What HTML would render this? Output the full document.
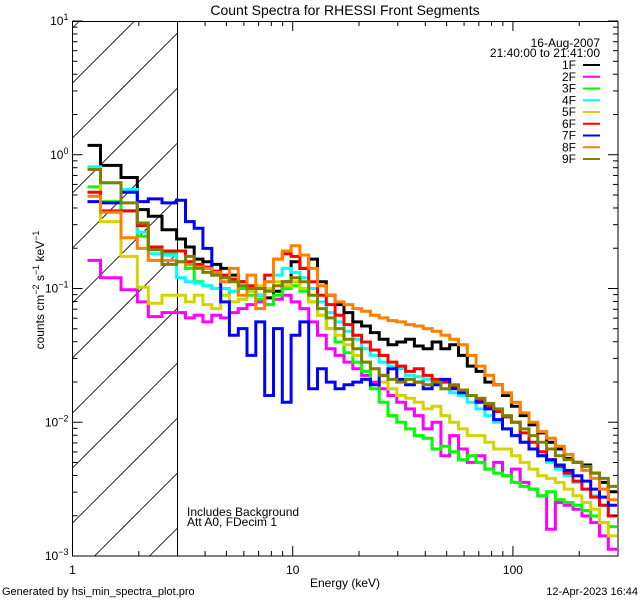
<!DOCTYPE html>
<html><head><meta charset="utf-8"><style>
html,body{margin:0;padding:0;background:#fff;width:640px;height:600px;overflow:hidden;}
svg{display:block;font-family:"Liberation Sans",sans-serif;overflow:hidden;}
</style></head><body>
<svg id="chart" width="640" height="600" viewBox="0 0 640 600">
<rect x="0" y="0" width="640" height="600" fill="#fff"/>
<defs><clipPath id="plotclip"><rect x="72.5" y="21" width="545.5" height="535"/></clipPath>
<clipPath id="hatchclip"><rect x="72.5" y="21" width="105" height="535"/></clipPath></defs>
<text x="345" y="15" font-size="14" text-anchor="middle">Count Spectra for RHESSI Front Segments</text>
<g id="hatch" clip-path="url(#hatchclip)"></g>
<line x1="177.5" y1="21" x2="177.5" y2="556" stroke="#000" stroke-width="1"/>
<g id="series" clip-path="url(#plotclip)"></g>
<rect x="72.5" y="21.5" width="545.5" height="534.5" fill="none" stroke="#000" stroke-width="1"/>
<g id="axes"></g>
<text x="600" y="47" font-size="12" text-anchor="end">16-Aug-2007</text>
<text x="600" y="57" font-size="12" text-anchor="end">21:40:00 to 21:41:00</text>
<g id="legend"></g>
<text x="187" y="516" font-size="12">Includes Background</text>
<text x="187" y="526" font-size="12">Att A0, FDecim 1</text>
<text x="345" y="587" font-size="12" text-anchor="middle">Energy (keV)</text>
<text transform="translate(44,290) rotate(-90)" font-size="12" text-anchor="middle">counts cm<tspan dy="-5" font-size="9">−2</tspan><tspan dy="5"> s</tspan><tspan dy="-5" font-size="9">−1</tspan><tspan dy="5"> keV</tspan><tspan dy="-5" font-size="9">−1</tspan></text>
<text x="2" y="595" font-size="11">Generated by hsi_min_spectra_plot.pro</text>
<text x="638" y="595" font-size="11" text-anchor="end">12-Apr-2023 16:44</text>
</svg>
<script>
// energy bin edges (keV)
const lowEdges = [1.17,1.34,1.66,1.97,2.21,2.55,2.97];
const highEdges = [3.26,3.57,3.91,4.29,4.71,5.16,5.66,6.20,6.80,7.46,8.18,8.97,9.83,10.78,11.82,12.96,14.21,15.58,17.09,18.74,20.54,22.53,24.70,27.08,29.70,32.56,35.71,39.15,42.93,47.07,51.62,56.60,62.06,68.05,74.62,81.82,89.71,98.37,107.9,118.3,129.7,142.2,155.9,171.0,187.5,205.6,225.4,247.2,271.0,297.0];
const seriesNames = ["1F","2F","3F","4F","5F","6F","7F","8F","9F"];
const seriesColors = ["#000000","#ff00ff","#00ff00","#00ffff","#d4d400","#ff0000","#0000ff","#ff8000","#808000"];
// log10(counts) per bin
const log1F = [0.07,-0.08,-0.17,-0.41,-0.46,-0.56,-0.63,-0.69,-0.78,-0.80,-0.82,-0.85,-0.90,-0.95,-1.0,-1.05,-1.07,-1.02,-0.95,-0.80,-0.85,-0.78,-0.95,-1.05,-1.12,-1.18,-1.25,-1.28,-1.33,-1.38,-1.42,-1.40,-1.38,-1.43,-1.45,-1.40,-1.45,-1.42,-1.50,-1.58,-1.62,-1.70,-1.72,-1.80,-1.88,-1.95,-2.02,-2.08,-2.15,-2.20,-2.27,-2.30,-2.32,-2.38,-2.45,-2.52];
const log2F = [-0.79,-0.92,-1.01,-1.10,-1.21,-1.18,-1.18,-1.22,-1.20,-1.25,-1.20,-1.22,-1.18,-1.15,-1.12,-1.10,-1.12,-1.08,-1.05,-1.10,-1.15,-1.25,-1.35,-1.45,-1.50,-1.55,-1.60,-1.65,-1.70,-1.75,-1.80,-1.85,-1.90,-1.95,-2.05,-2.00,-2.25,-2.10,-2.20,-2.30,-2.25,-2.35,-2.30,-2.40,-2.35,-2.45,-2.50,-2.55,-2.80,-2.60,-2.62,-2.65,-2.70,-2.75,-2.85,-2.95];
const log3F = [-0.24,-0.35,-0.42,-0.61,-0.70,-0.74,-0.72,-0.85,-0.95,-0.98,-1.0,-1.05,-1.02,-1.0,-1.05,-1.08,-1.12,-1.05,-1.0,-0.98,-1.02,-1.10,-1.20,-1.30,-1.40,-1.48,-1.55,-1.62,-1.75,-1.85,-1.95,-2.0,-2.05,-2.10,-2.12,-2.20,-2.18,-2.22,-2.28,-2.25,-2.30,-2.35,-2.38,-2.40,-2.45,-2.48,-2.50,-2.55,-2.52,-2.58,-2.60,-2.62,-2.66,-2.70,-2.75,-2.78];
const log4F = [-0.09,-0.21,-0.26,-0.58,-0.74,-0.75,-0.92,-0.95,-0.96,-0.98,-1.0,-1.0,-1.02,-0.98,-1.02,-1.05,-0.95,-0.90,-0.85,-0.88,-0.92,-1.00,-1.10,-1.18,-1.25,-1.32,-1.38,-1.45,-1.50,-1.55,-1.58,-1.60,-1.65,-1.66,-1.68,-1.72,-1.75,-1.78,-1.80,-1.85,-1.90,-1.95,-2.0,-2.05,-2.10,-2.15,-2.20,-2.25,-2.30,-2.35,-2.40,-2.45,-2.50,-2.55,-2.62,-2.70];
const log5F = [-0.11,-0.50,-0.76,-0.99,-1.11,-1.05,-1.05,-1.10,-1.05,-1.12,-1.15,-1.05,-1.10,-1.08,-1.02,-0.98,-1.0,-0.95,-0.98,-0.95,-1.0,-1.10,-1.20,-1.30,-1.35,-1.42,-1.50,-1.55,-1.60,-1.70,-1.75,-1.80,-1.82,-1.85,-1.90,-1.88,-1.95,-2.0,-2.05,-2.10,-2.10,-2.15,-2.20,-2.20,-2.25,-2.30,-2.35,-2.40,-2.42,-2.45,-2.50,-2.55,-2.60,-2.65,-2.75,-2.85];
const log6F = [-0.28,-0.42,-0.42,-0.53,-0.69,-0.72,-0.72,-0.80,-0.82,-0.84,-0.87,-0.90,-0.93,-0.95,-0.98,-1.0,-0.90,-0.78,-0.74,-0.76,-0.85,-0.95,-1.05,-1.12,-1.20,-1.27,-1.35,-1.40,-1.46,-1.50,-1.55,-1.58,-1.62,-1.60,-1.65,-1.68,-1.70,-1.74,-1.76,-1.80,-1.84,-1.88,-1.92,-1.96,-2.00,-2.08,-2.15,-2.22,-2.28,-2.33,-2.38,-2.44,-2.50,-2.56,-2.62,-2.70];
const log7F = [-0.35,-0.36,-0.28,-0.35,-0.33,-0.36,-0.34,-0.50,-0.55,-0.70,-0.90,-1.10,-1.35,-1.30,-1.50,-1.25,-1.80,-1.30,-1.85,-1.35,-1.25,-1.75,-1.60,-1.70,-1.75,-1.72,-1.70,-1.68,-1.72,-1.65,-1.60,-1.68,-1.72,-1.70,-1.75,-1.72,-1.68,-1.75,-1.78,-1.80,-1.85,-1.90,-1.98,-2.05,-2.10,-2.15,-2.20,-2.25,-2.28,-2.32,-2.36,-2.40,-2.44,-2.50,-2.56,-2.62];
const log8F = [-0.31,-0.43,-0.62,-0.70,-0.79,-0.79,-0.80,-0.82,-0.84,-0.85,-0.88,-0.95,-0.85,-1.05,-0.90,-1.15,-0.95,-0.78,-0.72,-0.68,-0.75,-0.85,-0.98,-1.05,-1.10,-1.12,-1.15,-1.17,-1.20,-1.22,-1.24,-1.25,-1.27,-1.28,-1.30,-1.32,-1.35,-1.38,-1.42,-1.50,-1.58,-1.65,-1.72,-1.78,-1.85,-1.93,-2.00,-2.07,-2.12,-2.18,-2.24,-2.30,-2.36,-2.42,-2.50,-2.58];
const log9F = [-0.11,-0.21,-0.36,-0.51,-0.71,-0.82,-0.80,-0.76,-0.85,-0.88,-0.90,-0.92,-0.95,-0.98,-1.0,-1.0,-1.02,-0.98,-0.95,-0.92,-0.95,-1.05,-1.15,-1.22,-1.30,-1.38,-1.45,-1.55,-1.60,-1.65,-1.68,-1.70,-1.68,-1.70,-1.72,-1.70,-1.75,-1.72,-1.76,-1.80,-1.82,-1.86,-1.90,-1.95,-2.0,-2.05,-2.10,-2.15,-2.20,-2.25,-2.28,-2.30,-2.33,-2.38,-2.42,-2.48];
const seriesData = [log1F,log2F,log3F,log4F,log5F,log6F,log7F,log8F,log9F];
const xMajorTicks = [1,10,100];
const xMajorLabels = ["1","10","100"];
const yDecades = [-3,-2,-1,0,1];

const NS="http://www.w3.org/2000/svg";
const X0=72.5,X1=618,Y0=21,Y1=556;
const xMinLog=0,xMaxLog=Math.log10(300),yMinLog=-3,yMaxLog=1;
function xs(e){return X0+(Math.log10(e)-xMinLog)/(xMaxLog-xMinLog)*(X1-X0);}
function ysl(l){return Y1-(l-yMinLog)/(yMaxLog-yMinLog)*(Y1-Y0);}
function mk(tag,attrs,parent){const el=document.createElementNS(NS,tag);for(const k in attrs)el.setAttribute(k,attrs[k]);parent.appendChild(el);return el;}

// hatch: 45-degree lines inside the excluded region only
const hatch=document.getElementById('hatch');
const HX0=72.5,HX1=177.5;
for(let k=-3;k<12;k++){
  const yr=21+k*55+12; // y where line meets right edge
  let x1=HX0,y1=yr+(HX1-HX0);
  let x2=HX1,y2=yr;
  if(y1>Y1){x1=HX1-(Y1-yr);y1=Y1;}
  if(y2<Y0){x2=HX0+(y1-Y0)-(x1-HX0)+(x1-HX0);x2=x1+(y1-Y0);y2=Y0;}
  if(x2<=x1)continue;
  const ln=mk('line',{x1:x1,y1:y1,x2:x2,y2:y2,stroke:'#000','stroke-width':0.8},hatch);
  
  
}

// series
const edges=lowEdges.concat(highEdges);
const sg=document.getElementById('series');
seriesData.forEach((vals,s)=>{
  let d='';
  const n=Math.min(vals.length,edges.length-1);
  for(let i=0;i<n;i++){
    const xa=xs(edges[i]),xb=xs(edges[i+1]),y=ysl(vals[i]);
    d+=(i===0?'M':'L')+xa.toFixed(1)+','+y.toFixed(1)+'L'+xb.toFixed(1)+','+y.toFixed(1);
  }
  const p=mk('path',{d:d,fill:'none',stroke:seriesColors[s],'stroke-width':3,'stroke-linejoin':'miter'},sg);
  
  
});

// axes ticks
const ax=document.getElementById('axes');
for(let dec=0;dec<3;dec++){
  for(let m=1;m<10;m++){
    const e=m*Math.pow(10,dec); if(e>300)break;
    const x=xs(e),len=(m===1)?10:5;
    const t1=mk('line',{x1:x,y1:Y1,x2:x,y2:Y1-len,stroke:'#000','stroke-width':1},ax);
    
    
    const t2=mk('line',{x1:x,y1:Y0,x2:x,y2:Y0+len,stroke:'#000','stroke-width':1},ax);
    
    
  }
}
xMajorTicks.forEach((e,i)=>{
  const t=mk('text',{x:xs(e),y:574,'font-size':12,'text-anchor':'middle'},ax);
  t.textContent=xMajorLabels[i];
  
  
});
yDecades.forEach(dec=>{
  for(let m=1;m<10;m++){
    if(dec===1&&m>1)break;
    const y=ysl(dec+Math.log10(m)),len=(m===1)?10:5;
    const t1=mk('line',{x1:X0,y1:y,x2:X0+len,y2:y,stroke:'#000','stroke-width':1},ax);
    
    
    const t2=mk('line',{x1:X1,y1:y,x2:X1-len,y2:y,stroke:'#000','stroke-width':1},ax);
    
    
  }
  const y=ysl(dec);
  const t=mk('text',{x:X0-4,y:y+4,'font-size':12,'text-anchor':'end'},ax);
  t.innerHTML='10<tspan dy="-5" font-size="9">'+(dec<0?'−'+(-dec):dec)+'</tspan>';
  
  
});

// legend
const lg=document.getElementById('legend');
seriesNames.forEach((nm,i)=>{
  const y=65+i*11.75;
  const t=mk('text',{x:576,y:y+4,'font-size':12,'text-anchor':'end'},lg);
  t.textContent=nm;
  
  
  const l=mk('line',{x1:583,y1:y,x2:600,y2:y,stroke:seriesColors[i],'stroke-width':2},lg);
  
  
});
</script>
</body></html>
